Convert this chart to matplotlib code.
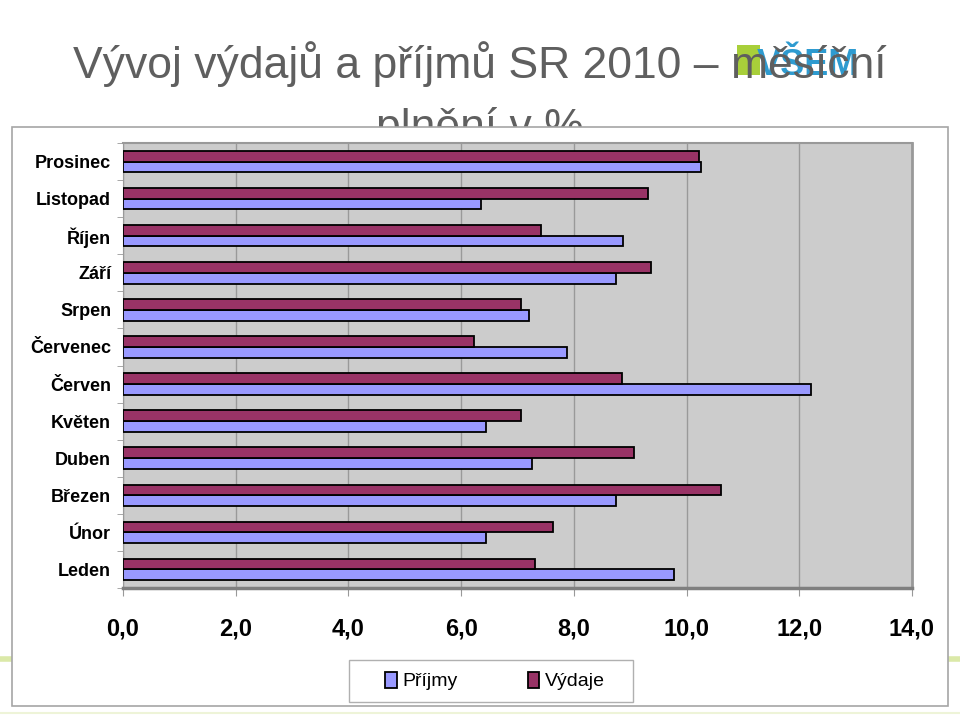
import numpy as np
import matplotlib
matplotlib.use('Agg')
import matplotlib.pyplot as plt
from matplotlib.patches import Rectangle

months = ['Leden', 'Únor', 'Březen', 'Duben', 'Květen', 'Červen',
          'Červenec', 'Srpen', 'Září', 'Říjen', 'Listopad', 'Prosinec']
prijmy = [9.77, 6.44, 8.74, 7.25, 6.44, 12.21, 7.87, 7.20, 8.74, 8.88, 6.35, 10.25]
vydaje = [7.31, 7.63, 10.61, 9.07, 7.06, 8.85, 6.23, 7.06, 9.36, 7.42, 9.31, 10.22]
xticks = [0, 2, 4, 6, 8, 10, 12, 14]
xticklabels = ['0,0', '2,0', '4,0', '6,0', '8,0', '10,0', '12,0', '14,0']

narrow = ['Liberation Sans Narrow', 'Noto Sans Condensed', 'DejaVu Sans Condensed',
          'Liberation Sans']
W, H = 960, 717

fig = plt.figure(figsize=(9.6, 7.17), dpi=100)

# slide decoration lines behind the chart box
fig.add_artist(plt.Line2D([0, 1], [1 - 659 / H] * 2, color='#dbe9a8', lw=4, zorder=0.2))
fig.add_artist(plt.Line2D([0, 1], [1 - 713 / H] * 2, color='#eef4d8', lw=1.5, zorder=0.2))

# logo
fig.add_artist(Rectangle((737 / W, 1 - 75 / H), 23 / W, 30 / H, facecolor='#a8cf3a',
                         edgecolor='none', zorder=0.5))
fig.text(757 / W, 1 - 75 / H, 'VŠEM', color='#2e9bd0', fontsize=26, fontweight='bold',
         family='Liberation Sans', ha='left', va='baseline', zorder=0.6)

# title (second line is partly hidden by the chart box)
fig.text(0.5, 1 - 78 / H, 'Vývoj výdajů a příjmů SR 2010 – měsíční', color='#5f5f5f',
         fontsize=32, family='Liberation Sans', ha='center', va='baseline', zorder=1)
fig.text(0.5, 1 - 140 / H, 'plnění v %', color='#5f5f5f',
         fontsize=32, family='Liberation Sans', ha='center', va='baseline', zorder=1)

# chart box
fig.add_artist(Rectangle((12 / W, 1 - 706 / H), (948 - 12) / W, (706 - 127) / H,
                         facecolor='white', edgecolor='#a6a6a6', lw=1.2, zorder=2))

ax = fig.add_axes([123 / W, 1 - 588 / H, (912 - 123) / W, (588 - 143) / H])
ax.set_zorder(3)
ax.set_facecolor('#cccccc')

y = np.arange(len(months))
h = 0.29
ax.barh(y - h / 2, prijmy, height=h, color='#9999ff', edgecolor='black', lw=1.3,
        label='Příjmy', zorder=3)
ax.barh(y + h / 2, vydaje, height=h, color='#993366', edgecolor='black', lw=1.3,
        label='Výdaje', zorder=3)

ax.set_xlim(0, 14)
ax.set_ylim(-0.5, 11.5)
ax.set_xticks(xticks)
ax.set_xticklabels(xticklabels, family=narrow, fontweight='bold', fontsize=17)
ax.set_yticks(y)
ax.set_yticklabels(months, family=narrow, fontweight='bold', fontsize=13)
ax.set_yticks(np.arange(-0.5, 12, 1), minor=True)
ax.tick_params(axis='y', which='major', length=0, pad=8.5)
ax.tick_params(axis='y', which='minor', length=4, color='#999999', direction='out')
ax.tick_params(axis='x', length=6, color='#999999', pad=15)
ax.grid(axis='x', color='#999999', lw=1, zorder=1)
ax.set_axisbelow(True)

for s in ['top', 'right', 'left']:
    ax.spines[s].set_color('#999999')
ax.spines['top'].set_linewidth(1.5)
ax.spines['right'].set_linewidth(2)
ax.spines['left'].set_linewidth(0.8)
ax.spines['bottom'].set_color('#7f7f7f')
ax.spines['bottom'].set_linewidth(2.5)

# legend frame drawn separately so it can be wider than its content
fig.add_artist(Rectangle((349 / W, 1 - 702 / H), (633 - 349) / W, (702 - 660) / H,
                         facecolor='white', edgecolor='#b0b0b0', lw=1, zorder=4))
leg = fig.legend(loc='center', bbox_to_anchor=(495 / W, 1 - 681 / H), ncol=2,
                 frameon=False, prop={'family': 'Liberation Sans', 'size': 14},
                 handlelength=0.6, handleheight=0.9, handletextpad=0.3,
                 columnspacing=3.6, borderpad=0.6, borderaxespad=0)
leg.set_zorder(5)

fig.savefig('out.png', dpi=100)
